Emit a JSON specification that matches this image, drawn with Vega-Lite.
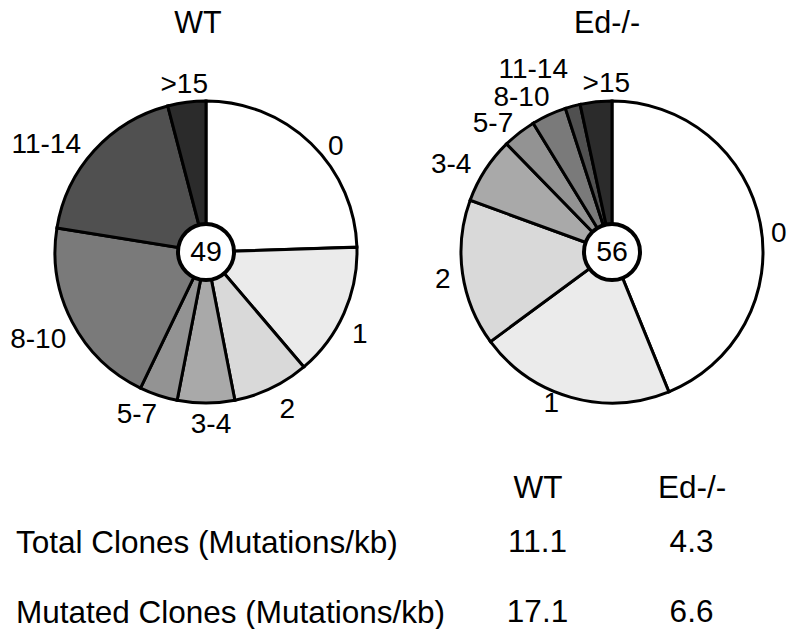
{
  "$schema": "https://vega.github.io/schema/vega-lite/v6.json",
  "background": "white",
  "padding": {"left": 10, "top": 9, "right": 0, "bottom": 0},
  "bounds": "flush",
  "spacing": 66,
  "config": {
    "view": {"stroke": null},
    "font": "Liberation Sans",
    "text": {"font": "Liberation Sans", "color": "black"},
    "axis": {"labelFont": "Liberation Sans", "labelColor": "black", "grid": false}
  },
  "datasets": {
    "pie": [
      {"group": "WT", "bin": "0", "order": 1, "count": 12},
      {"group": "WT", "bin": "1", "order": 2, "count": 7},
      {"group": "WT", "bin": "2", "order": 3, "count": 4},
      {"group": "WT", "bin": "3-4", "order": 4, "count": 3},
      {"group": "WT", "bin": "5-7", "order": 5, "count": 2},
      {"group": "WT", "bin": "8-10", "order": 6, "count": 10},
      {"group": "WT", "bin": "11-14", "order": 7, "count": 9},
      {"group": "WT", "bin": ">15", "order": 8, "count": 2},
      {"group": "Ed-/-", "bin": "0", "order": 1, "count": 24.6},
      {"group": "Ed-/-", "bin": "1", "order": 2, "count": 11.8},
      {"group": "Ed-/-", "bin": "2", "order": 3, "count": 8.8},
      {"group": "Ed-/-", "bin": "3-4", "order": 4, "count": 4.0},
      {"group": "Ed-/-", "bin": "5-7", "order": 5, "count": 2.0},
      {"group": "Ed-/-", "bin": "8-10", "order": 6, "count": 2.1},
      {"group": "Ed-/-", "bin": "11-14", "order": 7, "count": 0.9},
      {"group": "Ed-/-", "bin": ">15", "order": 8, "count": 1.9}
    ],
    "center": [
      {"group": "WT", "n": 49},
      {"group": "Ed-/-", "n": 56}
    ],
    "table": [
      {"metric": "Total Clones (Mutations/kb)", "group": "WT", "value": 11.1},
      {"metric": "Total Clones (Mutations/kb)", "group": "Ed-/-", "value": 4.3},
      {"metric": "Mutated Clones (Mutations/kb)", "group": "WT", "value": 17.1},
      {"metric": "Mutated Clones (Mutations/kb)", "group": "Ed-/-", "value": 6.6}
    ]
  },
  "hconcat": [
    {
      "width": 340,
      "height": 340,
      "layer": [
        {
          "data": {"name": "pie"},
          "transform": [{"filter": "datum.group == 'WT'"}],
          "mark": {"type": "arc", "radius": 151, "stroke": "black", "strokeWidth": 3},
          "encoding": {
            "theta": {"field": "count", "type": "quantitative", "stack": true},
            "order": {"field": "order", "type": "quantitative", "sort": "ascending"},
            "color": {"field": "bin", "type": "nominal", "legend": null,
              "scale": {"domain": ["0", "1", "2", "3-4", "5-7", "8-10", "11-14", ">15"],
                        "range": ["#ffffff", "#ebebeb", "#d9d9d9", "#a9a9a9", "#939393", "#7a7a7a", "#505050", "#2b2b2b"]}}
          }
        },
        {"data": {"name": "pie"}, "transform": [{"filter": "datum.group == 'WT'"}],
         "mark": {"type": "text", "radius": 178, "fontSize": 28, "baseline": "middle", "dx": 6, "dy": 23},
         "encoding": {"theta": {"field": "count", "type": "quantitative", "stack": true}, "order": {"field": "order", "type": "quantitative", "sort": "ascending"},
           "text": {"condition": {"test": "datum.bin != '0'", "value": ""}, "field": "bin", "type": "nominal"}}},
        {"data": {"name": "pie"}, "transform": [{"filter": "datum.group == 'WT'"}],
         "mark": {"type": "text", "radius": 178, "fontSize": 28, "baseline": "middle", "dx": -9, "dy": 11},
         "encoding": {"theta": {"field": "count", "type": "quantitative", "stack": true}, "order": {"field": "order", "type": "quantitative", "sort": "ascending"},
           "text": {"condition": {"test": "datum.bin != '1'", "value": ""}, "field": "bin", "type": "nominal"}}},
        {"data": {"name": "pie"}, "transform": [{"filter": "datum.group == 'WT'"}],
         "mark": {"type": "text", "radius": 178, "fontSize": 28, "baseline": "middle", "dx": 4, "dy": -2},
         "encoding": {"theta": {"field": "count", "type": "quantitative", "stack": true}, "order": {"field": "order", "type": "quantitative", "sort": "ascending"},
           "text": {"condition": {"test": "datum.bin != '2'", "value": ""}, "field": "bin", "type": "nominal"}}},
        {"data": {"name": "pie"}, "transform": [{"filter": "datum.group == 'WT'"}],
         "mark": {"type": "text", "radius": 178, "fontSize": 28, "baseline": "middle", "dx": 5, "dy": -5},
         "encoding": {"theta": {"field": "count", "type": "quantitative", "stack": true}, "order": {"field": "order", "type": "quantitative", "sort": "ascending"},
           "text": {"condition": {"test": "datum.bin != '3-4'", "value": ""}, "field": "bin", "type": "nominal"}}},
        {"data": {"name": "pie"}, "transform": [{"filter": "datum.group == 'WT'"}],
         "mark": {"type": "text", "radius": 178, "fontSize": 28, "baseline": "middle", "dx": -13, "dy": -6},
         "encoding": {"theta": {"field": "count", "type": "quantitative", "stack": true}, "order": {"field": "order", "type": "quantitative", "sort": "ascending"},
           "text": {"condition": {"test": "datum.bin != '5-7'", "value": ""}, "field": "bin", "type": "nominal"}}},
        {"data": {"name": "pie"}, "transform": [{"filter": "datum.group == 'WT'"}],
         "mark": {"type": "text", "radius": 178, "fontSize": 28, "baseline": "middle", "dx": -10, "dy": 6},
         "encoding": {"theta": {"field": "count", "type": "quantitative", "stack": true}, "order": {"field": "order", "type": "quantitative", "sort": "ascending"},
           "text": {"condition": {"test": "datum.bin != '8-10'", "value": ""}, "field": "bin", "type": "nominal"}}},
        {"data": {"name": "pie"}, "transform": [{"filter": "datum.group == 'WT'"}],
         "mark": {"type": "text", "radius": 178, "fontSize": 28, "baseline": "middle", "dx": -28, "dy": 13},
         "encoding": {"theta": {"field": "count", "type": "quantitative", "stack": true}, "order": {"field": "order", "type": "quantitative", "sort": "ascending"},
           "text": {"condition": {"test": "datum.bin != '11-14'", "value": ""}, "field": "bin", "type": "nominal"}}},
        {"data": {"name": "pie"}, "transform": [{"filter": "datum.group == 'WT'"}],
         "mark": {"type": "text", "radius": 178, "fontSize": 28, "baseline": "middle", "dx": 1, "dy": 10},
         "encoding": {"theta": {"field": "count", "type": "quantitative", "stack": true}, "order": {"field": "order", "type": "quantitative", "sort": "ascending"},
           "text": {"condition": {"test": "datum.bin != '>15'", "value": ""}, "field": "bin", "type": "nominal"}}},
        {
          "data": {"name": "center"},
          "transform": [{"filter": "datum.group == 'WT'"}],
          "mark": {"type": "arc", "radius": 28, "theta": 0, "theta2": 6.2832, "fill": "white", "stroke": "black", "strokeWidth": 4},
          "encoding": {}
        },
        {
          "data": {"name": "center"},
          "transform": [{"filter": "datum.group == 'WT'"}],
          "mark": {"type": "text", "fontSize": 28.5, "baseline": "middle"},
          "encoding": {"text": {"field": "n", "type": "nominal"}}
        },
        {
          "data": {"name": "center"},
          "transform": [{"filter": "datum.group == 'WT'"}],
          "mark": {"type": "text", "fontSize": 30.5, "baseline": "alphabetic", "dx": -8, "dy": -219},
          "encoding": {"text": {"field": "group", "type": "nominal"}}
        },
        {
          "data": {"name": "table"},
          "mark": {"type": "text", "fontSize": 31.5, "baseline": "alphabetic"},
          "encoding": {
            "x": {"field": "group", "type": "nominal",
              "scale": {"type": "point", "domain": ["WT", "Ed-/-"], "range": [501.5, 655.5], "padding": 0},
              "axis": {"orient": "bottom", "offset": 72, "title": null, "domain": false, "ticks": false, "labelAngle": 0, "labelFontSize": 31.5, "labelBaseline": "alphabetic", "labelPadding": 3}},
            "y": {"field": "metric", "type": "nominal",
              "scale": {"type": "point", "domain": ["Total Clones (Mutations/kb)", "Mutated Clones (Mutations/kb)"], "range": [470, 540], "padding": 0},
              "axis": {"orient": "left", "title": null, "domain": false, "ticks": false, "labelFontSize": 31.5, "labelAlign": "left", "labelBaseline": "alphabetic", "labelPadding": 20.5, "labelLimit": 0}},
            "text": {"field": "value", "type": "quantitative", "format": ".1f"}
          }
        }
      ]
    },
    {
      "width": 340,
      "height": 340,
      "layer": [
        {
          "data": {"name": "pie"},
          "transform": [{"filter": "datum.group == 'Ed-/-'"}],
          "mark": {"type": "arc", "radius": 151, "stroke": "black", "strokeWidth": 3},
          "encoding": {
            "theta": {"field": "count", "type": "quantitative", "stack": true},
            "order": {"field": "order", "type": "quantitative", "sort": "ascending"},
            "color": {"field": "bin", "type": "nominal", "legend": null,
              "scale": {"domain": ["0", "1", "2", "3-4", "5-7", "8-10", "11-14", ">15"],
                        "range": ["#ffffff", "#ebebeb", "#d9d9d9", "#a9a9a9", "#939393", "#7a7a7a", "#545454", "#2b2b2b"]}}
          }
        },
        {"data": {"name": "pie"}, "transform": [{"filter": "datum.group == 'Ed-/-'"}],
         "mark": {"type": "text", "radius": 176, "fontSize": 28, "baseline": "middle", "dx": -6, "dy": 16},
         "encoding": {"theta": {"field": "count", "type": "quantitative", "stack": true}, "order": {"field": "order", "type": "quantitative", "sort": "ascending"},
           "text": {"condition": {"test": "datum.bin != '0'", "value": ""}, "field": "bin", "type": "nominal"}}},
        {"data": {"name": "pie"}, "transform": [{"filter": "datum.group == 'Ed-/-'"}],
         "mark": {"type": "text", "radius": 176, "fontSize": 28, "baseline": "middle", "dx": -13, "dy": -17},
         "encoding": {"theta": {"field": "count", "type": "quantitative", "stack": true}, "order": {"field": "order", "type": "quantitative", "sort": "ascending"},
           "text": {"condition": {"test": "datum.bin != '1'", "value": ""}, "field": "bin", "type": "nominal"}}},
        {"data": {"name": "pie"}, "transform": [{"filter": "datum.group == 'Ed-/-'"}],
         "mark": {"type": "text", "radius": 176, "fontSize": 28, "baseline": "middle", "dx": 5, "dy": 3},
         "encoding": {"theta": {"field": "count", "type": "quantitative", "stack": true}, "order": {"field": "order", "type": "quantitative", "sort": "ascending"},
           "text": {"condition": {"test": "datum.bin != '2'", "value": ""}, "field": "bin", "type": "nominal"}}},
        {"data": {"name": "pie"}, "transform": [{"filter": "datum.group == 'Ed-/-'"}],
         "mark": {"type": "text", "radius": 176, "fontSize": 28, "baseline": "middle", "dx": -13, "dy": 9},
         "encoding": {"theta": {"field": "count", "type": "quantitative", "stack": true}, "order": {"field": "order", "type": "quantitative", "sort": "ascending"},
           "text": {"condition": {"test": "datum.bin != '3-4'", "value": ""}, "field": "bin", "type": "nominal"}}},
        {"data": {"name": "pie"}, "transform": [{"filter": "datum.group == 'Ed-/-'"}],
         "mark": {"type": "text", "radius": 176, "fontSize": 28, "baseline": "middle", "dx": -11, "dy": 11},
         "encoding": {"theta": {"field": "count", "type": "quantitative", "stack": true}, "order": {"field": "order", "type": "quantitative", "sort": "ascending"},
           "text": {"condition": {"test": "datum.bin != '5-7'", "value": ""}, "field": "bin", "type": "nominal"}}},
        {"data": {"name": "pie"}, "transform": [{"filter": "datum.group == 'Ed-/-'"}],
         "mark": {"type": "text", "radius": 176, "fontSize": 28, "baseline": "middle", "dx": -17, "dy": 6},
         "encoding": {"theta": {"field": "count", "type": "quantitative", "stack": true}, "order": {"field": "order", "type": "quantitative", "sort": "ascending"},
           "text": {"condition": {"test": "datum.bin != '8-10'", "value": ""}, "field": "bin", "type": "nominal"}}},
        {"data": {"name": "pie"}, "transform": [{"filter": "datum.group == 'Ed-/-'"}],
         "mark": {"type": "text", "radius": 176, "fontSize": 28, "baseline": "middle", "dx": -33, "dy": -12},
         "encoding": {"theta": {"field": "count", "type": "quantitative", "stack": true}, "order": {"field": "order", "type": "quantitative", "sort": "ascending"},
           "text": {"condition": {"test": "datum.bin != '11-14'", "value": ""}, "field": "bin", "type": "nominal"}}},
        {"data": {"name": "pie"}, "transform": [{"filter": "datum.group == 'Ed-/-'"}],
         "mark": {"type": "text", "radius": 176, "fontSize": 28, "baseline": "middle", "dx": 13, "dy": 7},
         "encoding": {"theta": {"field": "count", "type": "quantitative", "stack": true}, "order": {"field": "order", "type": "quantitative", "sort": "ascending"},
           "text": {"condition": {"test": "datum.bin != '>15'", "value": ""}, "field": "bin", "type": "nominal"}}},
        {
          "data": {"name": "center"},
          "transform": [{"filter": "datum.group == 'Ed-/-'"}],
          "mark": {"type": "arc", "radius": 28, "theta": 0, "theta2": 6.2832, "fill": "white", "stroke": "black", "strokeWidth": 4},
          "encoding": {}
        },
        {
          "data": {"name": "center"},
          "transform": [{"filter": "datum.group == 'Ed-/-'"}],
          "mark": {"type": "text", "fontSize": 28.5, "baseline": "middle"},
          "encoding": {"text": {"field": "n", "type": "nominal"}}
        },
        {
          "data": {"name": "center"},
          "transform": [{"filter": "datum.group == 'Ed-/-'"}],
          "mark": {"type": "text", "fontSize": 30.5, "baseline": "alphabetic", "dx": -5, "dy": -219},
          "encoding": {"text": {"field": "group", "type": "nominal"}}
        }
      ]
    }
  ]
}
